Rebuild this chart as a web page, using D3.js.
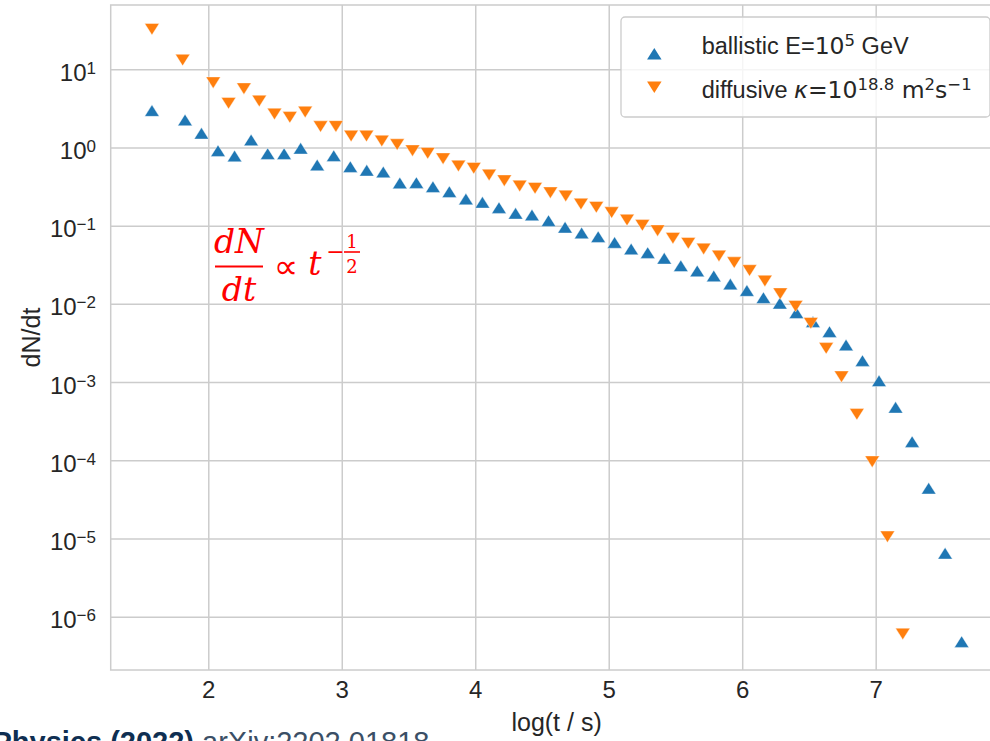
<!DOCTYPE html>
<html>
<head>
<meta charset="utf-8">
<script src="https://cdn.jsdelivr.net/npm/d3@7"></script>
<style>
  html, body { margin: 0; padding: 0; background: #ffffff; }
  svg { display: block; }
</style>
</head>
<body>
<svg id="chart" width="990" height="741"></svg>
<script>
// ---------------- data ----------------
const ballisticLogT = [1.578, 1.826, 1.949, 2.073, 2.197, 2.321, 2.445, 2.568, 2.692, 2.816,
  2.940, 3.064, 3.187, 3.311, 3.435, 3.559, 3.683, 3.806, 3.930, 4.054,
  4.178, 4.302, 4.425, 4.549, 4.673, 4.797, 4.921, 5.044, 5.168, 5.292,
  5.416, 5.540, 5.663, 5.787, 5.911, 6.035, 6.159, 6.282, 6.406, 6.530,
  6.654, 6.778, 6.901, 7.025, 7.149, 7.273, 7.397, 7.520, 7.644];
const ballisticDNdt = [2.96, 2.25, 1.52, 0.910, 0.778, 1.25, 0.833, 0.833, 0.977, 0.597,
  0.785, 0.568, 0.511, 0.486, 0.352, 0.355, 0.315, 0.272, 0.219, 0.199,
  0.170, 0.144, 0.137, 0.116, 0.0955, 0.0807, 0.0723, 0.0610, 0.0504, 0.0452,
  0.0383, 0.0307, 0.0264, 0.0228, 0.0179, 0.0148, 0.0120, 0.0102, 0.00771, 0.00592,
  0.00441, 0.00298, 0.00188, 0.00104, 0.000476, 0.000173, 4.39e-5, 6.47e-6, 4.79e-7];

const diffusiveLogT = [1.578, 1.808, 2.037, 2.152, 2.267, 2.382, 2.496, 2.611, 2.726, 2.841,
  2.956, 3.070, 3.185, 3.300, 3.415, 3.530, 3.644, 3.759, 3.874, 3.989,
  4.104, 4.218, 4.333, 4.448, 4.563, 4.678, 4.792, 4.907, 5.022, 5.137,
  5.252, 5.366, 5.481, 5.596, 5.711, 5.826, 5.940, 6.055, 6.170, 6.285,
  6.400, 6.514, 6.629, 6.744, 6.859, 6.974, 7.088, 7.203];
const diffusiveDNdt = [32.5, 13.1, 6.74, 3.68, 5.65, 3.93, 2.68, 2.43, 2.84, 1.85,
  1.86, 1.40, 1.40, 1.21, 1.09, 0.910, 0.843, 0.719, 0.580, 0.542,
  0.445, 0.376, 0.322, 0.301, 0.264, 0.240, 0.189, 0.172, 0.147, 0.118,
  0.101, 0.0863, 0.0692, 0.0596, 0.0504, 0.0410, 0.0337, 0.0267, 0.0196, 0.0135,
  0.00931, 0.00565, 0.00270, 0.00117, 0.000387, 9.59e-5, 1.05e-5, 6.01e-7];

const xTickValues = [2, 3, 4, 5, 6, 7];
const yTickExponents = [1, 0, -1, -2, -3, -4, -5, -6];
const xLabel = "log(t / s)";
const yLabel = "dN/dt";

// ---------------- layout ----------------
const W = 990, H = 741;
const L = 110.7, R = 1002.5, T = 5, B = 670;
const BLUE = "#1f77b4", ORANGE = "#ff7f0e";
const GRID = "#cccccc", TXT = "#262626";
const SANS = "'Liberation Sans', Arial, Helvetica, sans-serif";
const MATH = "'DejaVu Sans', sans-serif";

const svg = d3.select("#chart");
svg.append("rect").attr("width", W).attr("height", H).attr("fill", "#ffffff");

const x = d3.scaleLinear().domain([1.269, 7.95]).range([L, R]);
const y = d3.scaleLog().domain([Math.pow(10, -6.682), Math.pow(10, 1.822)]).range([B, T]);

// ---------------- axes + grid ----------------
const xAxis = svg.append("g").attr("transform", `translate(0,${B})`)
  .call(d3.axisBottom(x).tickValues(xTickValues).tickSize(-(B - T)).tickFormat(d3.format("d")));
xAxis.select(".domain").remove();
xAxis.selectAll(".tick line").attr("stroke", GRID).attr("stroke-width", 1.5);
xAxis.selectAll(".tick text")
  .attr("y", 28.3).attr("dy", 0)
  .attr("font-family", SANS).attr("font-size", 24).attr("fill", TXT);

const yTickVals = yTickExponents.map(e => Math.pow(10, e));
const yAxis = svg.append("g").attr("transform", `translate(${L},0)`)
  .call(d3.axisLeft(y).tickValues(yTickVals).tickSize(-(R - L)).tickFormat(() => ""));
yAxis.select(".domain").remove();
yAxis.selectAll(".tick line").attr("stroke", GRID).attr("stroke-width", 1.5);
yAxis.selectAll(".tick text").each(function(d) {
  const e = Math.round(Math.log10(d));
  const t = d3.select(this)
    .attr("x", -14.7).attr("y", 11).attr("dy", 0)
    .attr("text-anchor", "end")
    .attr("font-family", SANS).attr("fill", TXT);
  t.text(null);
  t.append("tspan").attr("font-size", 24).text("10");
  t.append("tspan").attr("font-size", 17).attr("dy", -7)
    .text(e < 0 ? "\u2212" + Math.abs(e) : String(e));
});

// frame
svg.append("rect")
  .attr("x", L).attr("y", T).attr("width", R - L).attr("height", B - T)
  .attr("fill", "none").attr("stroke", GRID).attr("stroke-width", 1.5);

// ---------------- markers ----------------
const MW = 14.5, MH = 11.5;
const triUp = `M0,${-MH / 2}L${MW / 2},${MH / 2}L${-MW / 2},${MH / 2}Z`;
const triDown = `M0,${MH / 2}L${MW / 2},${-MH / 2}L${-MW / 2},${-MH / 2}Z`;

const ballistic = ballisticLogT.map((t, i) => ({ t, v: ballisticDNdt[i] }));
const diffusive = diffusiveLogT.map((t, i) => ({ t, v: diffusiveDNdt[i] }));

svg.append("g").selectAll("path").data(ballistic).join("path")
  .attr("d", triUp)
  .attr("transform", d => `translate(${x(d.t)},${y(d.v)})`)
  .attr("fill", BLUE).attr("stroke", "#ffffff").attr("stroke-width", 0.4);

svg.append("g").selectAll("path").data(diffusive).join("path")
  .attr("d", triDown)
  .attr("transform", d => `translate(${x(d.t)},${y(d.v)})`)
  .attr("fill", ORANGE).attr("stroke", "#ffffff").attr("stroke-width", 0.4);

// ---------------- legend ----------------
const lg = svg.append("g");
lg.append("rect").attr("x", 621).attr("y", 17).attr("width", 369).attr("height", 100)
  .attr("rx", 4).attr("fill", "#ffffff").attr("fill-opacity", 0.8)
  .attr("stroke", GRID).attr("stroke-width", 1.3);
lg.append("path").attr("d", triUp).attr("transform", "translate(654.3,53.7)").attr("fill", BLUE);
lg.append("path").attr("d", triDown).attr("transform", "translate(654.3,87.2)").attr("fill", ORANGE);

const LFS = 23.5, LSUP = 16.5;
const t1 = lg.append("text").attr("x", 701.7).attr("y", 54.3)
  .attr("font-family", SANS).attr("font-size", LFS).attr("fill", TXT);
t1.append("tspan").text("ballistic E=");
t1.append("tspan").attr("font-family", MATH).text("10");
t1.append("tspan").attr("font-family", MATH).attr("font-size", LSUP).attr("dy", -8).text("5");
t1.append("tspan").attr("dy", 8).text("\u00a0GeV");

const t2 = lg.append("text").attr("x", 701.7).attr("y", 97.5)
  .attr("font-family", SANS).attr("font-size", LFS).attr("fill", TXT);
t2.append("tspan").text("diffusive ");
t2.append("tspan").attr("font-family", MATH).attr("font-style", "italic").text("\u03ba");
t2.append("tspan").attr("font-family", MATH).text("=10");
t2.append("tspan").attr("font-family", MATH).attr("font-size", LSUP).attr("dy", -8).text("18.8");
t2.append("tspan").attr("font-family", MATH).attr("dy", 8).text("\u00a0m");
t2.append("tspan").attr("font-family", MATH).attr("font-size", LSUP).attr("dy", -8).text("2");
t2.append("tspan").attr("font-family", MATH).attr("dy", 8).text("s");
t2.append("tspan").attr("font-family", MATH).attr("font-size", LSUP).attr("dy", -8).text("\u22121");

// ---------------- annotation ----------------
const RED = "#ff0000";
const SERIF = "'DejaVu Serif', 'Liberation Serif', serif";
const an = svg.append("g").attr("fill", RED).attr("font-family", SERIF);
an.append("text").attr("x", 239).attr("y", 253).attr("text-anchor", "middle")
  .attr("font-size", 33).attr("font-style", "italic").text("dN");
an.append("line").attr("x1", 215).attr("x2", 263).attr("y1", 266.5).attr("y2", 266.5)
  .attr("stroke", RED).attr("stroke-width", 2);
an.append("text").attr("x", 239).attr("y", 301).attr("text-anchor", "middle")
  .attr("font-size", 33).attr("font-style", "italic").text("dt");
an.append("text").attr("x", 286).attr("y", 278).attr("text-anchor", "middle")
  .attr("font-family", "'DejaVu Sans', sans-serif")
  .attr("font-size", 34).text("\u221d");
an.append("text").attr("x", 315).attr("y", 275).attr("text-anchor", "middle")
  .attr("font-size", 33).attr("font-style", "italic").text("t");
an.append("text").attr("x", 335.5).attr("y", 258.5).attr("text-anchor", "middle")
  .attr("font-size", 22).text("\u2212");
an.append("text").attr("x", 352).attr("y", 248).attr("text-anchor", "middle")
  .attr("font-size", 18).text("1");
an.append("line").attr("x1", 344).attr("x2", 360).attr("y1", 252).attr("y2", 252)
  .attr("stroke", RED).attr("stroke-width", 1.6);
an.append("text").attr("x", 352).attr("y", 272.5).attr("text-anchor", "middle")
  .attr("font-size", 18).text("2");

// ---------------- axis labels ----------------
svg.append("text").attr("x", (L + R) / 2).attr("y", 731).attr("text-anchor", "middle")
  .attr("font-family", SANS).attr("font-size", 25).attr("fill", TXT).text(xLabel);
svg.append("text").attr("transform", `translate(40,${(T + B) / 2}) rotate(-90)`)
  .attr("text-anchor", "middle")
  .attr("font-family", SANS).attr("font-size", 25).attr("fill", TXT).text(yLabel);

// ---------------- cut-off citation at bottom (cropped in the reference too) ----------------
const cite = svg.append("text").attr("x", -7.5).attr("y", 752)
  .attr("font-family", SANS).attr("font-size", 29);
cite.append("tspan").attr("font-weight", "bold").attr("fill", "#0f2f52").text("Physics (2022)");
cite.append("tspan").attr("fill", "#3b4f66").text(" arXiv:2202.01818");
</script>
</body>
</html>
